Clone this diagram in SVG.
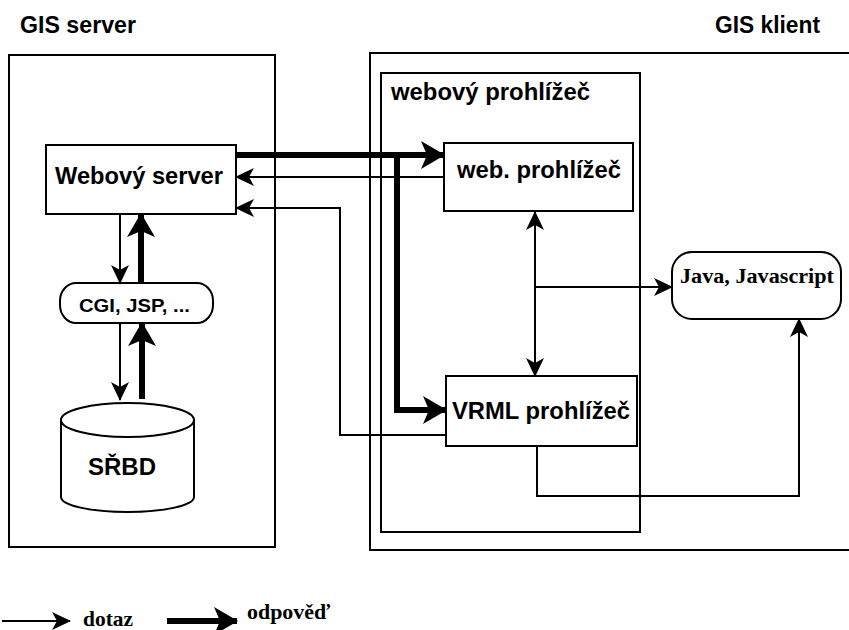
<svg xmlns="http://www.w3.org/2000/svg" width="849" height="630" viewBox="0 0 849 630">
<defs>
<style>
.box{fill:#fff;stroke:#000;stroke-width:2}
.frame{fill:none;stroke:#000;stroke-width:2}
.thin{fill:none;stroke:#000;stroke-width:2}
.thick{fill:none;stroke:#000;stroke-width:6}
.lbl{font-family:"Liberation Sans",Arial,sans-serif;font-weight:bold;fill:#000}
.ser{font-family:"Liberation Serif","Times New Roman",serif;font-weight:bold;fill:#000}
</style>
<marker id="ah" markerUnits="userSpaceOnUse" markerWidth="20" markerHeight="18" refX="18" refY="9" orient="auto" overflow="visible">
<path d="M0,0 L19,9 L0,18 L5,9 Z" fill="#000"/>
</marker>
<marker id="ahs" markerUnits="userSpaceOnUse" markerWidth="20" markerHeight="18" refX="0" refY="9" orient="auto" overflow="visible">
<path d="M19,0 L0,9 L19,18 L14,9 Z" fill="#000"/>
</marker>
<marker id="ahT" markerUnits="userSpaceOnUse" markerWidth="26" markerHeight="28" refX="23" refY="14" orient="auto" overflow="visible">
<path d="M0,0 L24,14 L0,28 L6,14 Z" fill="#000"/>
</marker>
</defs>
<rect width="849" height="630" fill="#fff"/>

<g id="server-frame">
<rect class="frame" x="9" y="55" width="266" height="492"/>
<text class="lbl" x="20" y="33" font-size="23" textLength="116" lengthAdjust="spacingAndGlyphs">GIS server</text>
</g>

<g id="client-frame">
<rect class="frame" x="370" y="53" width="500" height="497"/>
<text class="lbl" x="715" y="33" font-size="23" textLength="105" lengthAdjust="spacingAndGlyphs">GIS klient</text>
</g>

<g id="browser-frame">
<rect class="frame" x="381" y="73" width="259" height="459"/>
<text class="lbl" x="391" y="100" font-size="23" textLength="199" lengthAdjust="spacingAndGlyphs">webový prohlížeč</text>
</g>

<g id="connectors">
<line class="thin" x1="120" y1="214" x2="120" y2="283" marker-end="url(#ah)"/>
<line class="thick" x1="141" y1="283" x2="141" y2="214" marker-end="url(#ahT)"/>
<line class="thin" x1="120" y1="323" x2="120" y2="400" marker-end="url(#ah)"/>
<line class="thick" x1="142" y1="399" x2="142" y2="323" marker-end="url(#ahT)"/>
<line class="thick" x1="236" y1="155" x2="444" y2="155" marker-end="url(#ahT)"/>
<polyline class="thick" points="397,155 397,410 446,410" marker-end="url(#ahT)"/>
<line class="thin" x1="444" y1="177" x2="236" y2="177" marker-end="url(#ah)"/>
<polyline class="thin" points="446,435 340,435 340,208 236,208" marker-end="url(#ah)"/>
<line class="thin" x1="535" y1="211" x2="535" y2="376" marker-start="url(#ahs)" marker-end="url(#ah)"/>
<line class="thin" x1="535" y1="287" x2="672" y2="287" marker-end="url(#ah)"/>
<polyline class="thin" points="537,446 537,496 799,496 799,319" marker-end="url(#ah)"/>
</g>

<g id="webovy-server">
<rect class="box" x="46" y="145" width="190" height="69"/>
<text class="lbl" x="55" y="184" font-size="24" textLength="168" lengthAdjust="spacingAndGlyphs">Webový server</text>
</g>

<g id="cgi">
<rect class="box" x="60" y="283" width="153" height="40" rx="16" ry="18"/>
<text class="lbl" x="79" y="312" font-size="19" textLength="111" lengthAdjust="spacingAndGlyphs">CGI, JSP, ...</text>
</g>

<g id="srbd">
<path class="box" d="M61,420 A66.5,17 0 0 1 194,420 L194,497 A66.5,15 0 0 1 61,497 Z"/>
<path class="thin" d="M61,420 A66.5,17 0 0 0 194,420"/>
<text class="lbl" x="88" y="475" font-size="24" textLength="68" lengthAdjust="spacingAndGlyphs">SŘBD</text>
</g>

<g id="web-prohlizec">
<rect class="box" x="444" y="143" width="189" height="68"/>
<text class="lbl" x="457" y="178" font-size="24" textLength="164" lengthAdjust="spacingAndGlyphs">web. prohlížeč</text>
</g>

<g id="vrml-prohlizec">
<rect class="box" x="446" y="376" width="191" height="70"/>
<text class="lbl" x="452" y="419" font-size="24" textLength="178" lengthAdjust="spacingAndGlyphs">VRML prohlížeč</text>
</g>

<g id="java">
<rect class="box" x="672" y="252" width="169" height="67" rx="20" ry="20"/>
<text class="ser" x="680" y="283" font-size="20" textLength="154" lengthAdjust="spacingAndGlyphs">Java, Javascript</text>
</g>

<g id="legend">
<line class="thin" x1="2" y1="621" x2="70" y2="621" marker-end="url(#ah)"/>
<text class="ser" x="83" y="626" font-size="21" textLength="50" lengthAdjust="spacingAndGlyphs">dotaz</text>
<line class="thick" x1="167" y1="621" x2="237" y2="621" marker-end="url(#ahT)"/>
<text class="ser" x="247" y="619" font-size="21" textLength="83" lengthAdjust="spacingAndGlyphs">odpověď</text>
</g>
</svg>
